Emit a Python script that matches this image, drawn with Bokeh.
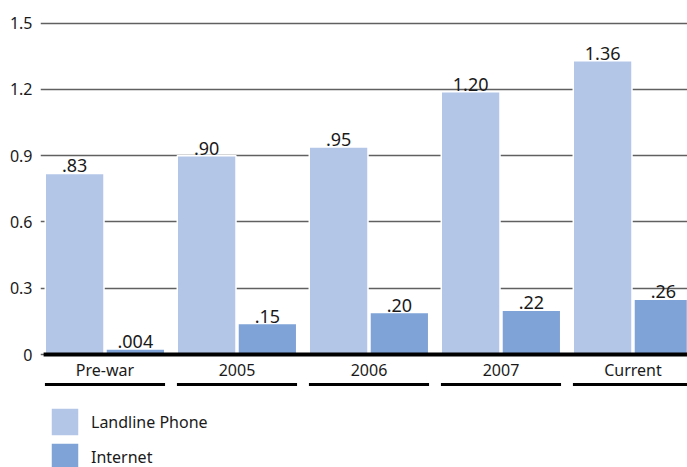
from bokeh.plotting import figure
from bokeh.models import Range1d, FixedTicker, Legend, LegendItem, ColumnDataSource
from bokeh.core.properties import value
from bokeh.embed import file_html
from bokeh.resources import INLINE

# ---- data ----
categories = ["Pre-war", "2005", "2006", "2007", "Current"]
landline = [0.82, 0.90, 0.94, 1.19, 1.33]
internet = [0.025, 0.14, 0.19, 0.20, 0.25]
landline_labels = [".83", ".90", ".95", "1.20", "1.36"]
internet_labels = [".004", ".15", ".20", ".22", ".26"]
y_ticks = [0, 0.3, 0.6, 0.9, 1.2, 1.5]
y_tick_labels = ["0", "0.3", "0.6", "0.9", "1.2", "1.5"]
series_names = ["Landline Phone", "Internet"]

# ---- style ----
LAND_COLOR = "#b4c6e8"
NET_COLOR = "#7fa3d6"
TEXT_COLOR = "#1a1a1a"
FONT = "Noto Sans"
OFFSET = 0.23
BAR_W = 0.445
UNDERLINE_Y = -0.136
UNDERLINE_HALF = 0.455

idx = list(range(len(categories)))
x_land = [i - OFFSET for i in idx]
x_net = [i + OFFSET for i in idx]

p = figure(width=687, height=467,
           x_range=Range1d(-0.4886, 4.413), y_range=Range1d(-0.5116, 1.6028),
           min_border_left=40, min_border_right=0, min_border_top=0, min_border_bottom=0,
           output_backend="svg", toolbar_location=None)
p.outline_line_color = None
p.background_fill_color = "white"
p.xaxis.visible = False
p.xgrid.visible = False

yax = p.yaxis[0]
yax.ticker = FixedTicker(ticks=y_ticks)
yax.major_label_overrides = {t: l for t, l in zip(y_ticks, y_tick_labels)}
yax.axis_line_color = None
yax.major_tick_line_color = None
yax.minor_tick_line_color = None
yax.major_tick_out = 0
yax.major_tick_in = 0
yax.major_label_standoff = 8
yax.major_label_text_font = FONT
yax.major_label_text_font_size = "16px"
yax.major_label_text_color = TEXT_COLOR

p.ygrid.ticker = FixedTicker(ticks=y_ticks)
p.ygrid.grid_line_color = "#606060"
p.ygrid.grid_line_width = 1.5

land_src = ColumnDataSource(dict(x=x_land, top=landline, label=landline_labels))
net_src = ColumnDataSource(dict(x=x_net, top=internet, label=internet_labels))

r1 = p.vbar(x="x", top="top", bottom=0, width=BAR_W, source=land_src,
            fill_color=LAND_COLOR, line_color="white", line_width=1.5)
r2 = p.vbar(x="x", top="top", bottom=0, width=BAR_W, source=net_src,
            fill_color=NET_COLOR, line_color="white", line_width=1.5)

for src in (land_src, net_src):
    p.text(x="x", y="top", text="label", source=src, text_align="center",
           text_baseline="bottom", y_offset=-1, text_font=value(FONT),
           text_font_size="18px", text_color=TEXT_COLOR)

# zero baseline
p.segment(x0=[-UNDERLINE_HALF - 0.01], y0=[0], x1=[len(categories)], y1=[0],
          line_color="black", line_width=4)

# category labels and underlines
cat_src = ColumnDataSource(dict(x=idx, y=[0] * len(idx), name=categories,
                                x0=[i - UNDERLINE_HALF for i in idx],
                                x1=[i + UNDERLINE_HALF if i < len(idx) - 1 else len(idx) for i in idx],
                                uy=[UNDERLINE_Y] * len(idx)))
p.text(x="x", y="y", text="name", source=cat_src, text_align="center",
       text_baseline="middle", y_offset=15, text_font=value(FONT),
       text_font_size="16px", text_color=TEXT_COLOR)
p.segment(x0="x0", y0="uy", x1="x1", y1="uy", source=cat_src,
          line_color="black", line_width=3)

legend = Legend(items=[LegendItem(label=series_names[0], renderers=[r1]),
                       LegendItem(label=series_names[1], renderers=[r2])],
                location=(7, -7))
legend.border_line_color = None
legend.background_fill_alpha = 0
legend.padding = 0
legend.margin = 0
legend.spacing = -4
legend.glyph_width = 35
legend.glyph_height = 35
legend.label_height = 35
legend.label_standoff = 9
legend.label_text_font = FONT
legend.label_text_font_size = "16px"
legend.label_text_line_height = 1.0
legend.label_text_color = TEXT_COLOR
p.add_layout(legend)

open("out.html", "w").write(file_html(p, INLINE))
